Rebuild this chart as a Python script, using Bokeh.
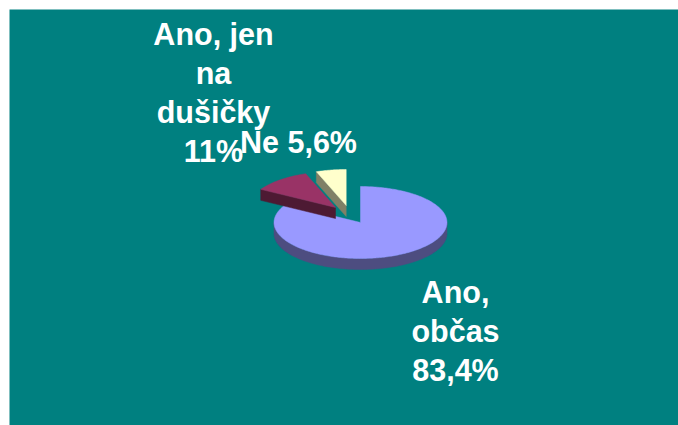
import numpy as np
from bokeh.plotting import figure
from bokeh.models import Range1d
from bokeh.embed import file_html
from bokeh.resources import INLINE
from bokeh.core.properties import value

categories = ["Ano, občas", "Ano, jen na dušičky", "Ne"]
shares = [83.4, 11.0, 5.6]
labels = ["Ano,\nobčas\n83,4%", "Ano, jen\nna\ndušičky\n11%", "Ne 5,6%"]
top_colors = ["#9999FF", "#993366", "#FFFFCC"]
side_colors = ["#4D4D80", "#4D1A33", "#808066"]

# layout of the 3D pie, in page pixels
CX, CY, RX, RY, DEPTH = 360.0, 222.0, 86.5, 36.0, 11.0
explode = [(0, 0), (-25, -15), (-14.3, -17)]
label_pos = [(455, 274), (213, 16), (298, 124)]

p = figure(width=678, height=425, output_backend="svg", toolbar_location=None,
           x_range=Range1d(9, 678), y_range=Range1d(425, 9),
           min_border_left=9, min_border_top=9, min_border_right=0, min_border_bottom=0,
           background_fill_color="#008080", border_fill_color="#FFFFFF")
p.frame_width = 669
p.frame_height = 416
p.axis.visible = False
p.grid.visible = False
p.outline_line_color = None


def arc(a0, a1, dx, dy, drop=0.0):
    t = np.radians(np.linspace(a0, a1, max(int(abs(a1 - a0)), 2) + 1))
    return CX + dx + RX * np.sin(t), CY + dy + drop - RY * np.cos(t)


edges = np.concatenate([[0], np.cumsum(shares)]) * 3.6

# draw order: large slice, then the small yellow one, then the red one
for i in [0, 2, 1]:
    a0, a1 = edges[i], edges[i + 1]
    dx, dy = explode[i]
    if i == 0:
        # front rim of the large slice
        xa, ya = arc(90, 270, dx, dy)
        xb, yb = arc(270, 90, dx, dy, DEPTH)
        p.patch(np.r_[xa, xb], np.r_[ya, yb], fill_color=side_colors[i], line_color=side_colors[i], line_width=0.5)
    else:
        # cut face on the leading edge, visible below the top surface
        xa, ya = arc(a0, a0, dx, dy)
        ax, ay = CX + dx, CY + dy
        fx = [xa[0], ax, ax, xa[0]]
        fy = [ya[0], ay, ay + DEPTH, ya[0] + DEPTH]
        p.patch(fx, fy, fill_color=side_colors[i], line_color=side_colors[i], line_width=0.5)
    x, y = arc(a0, a1, dx, dy)
    p.patch(np.r_[CX + dx, x], np.r_[CY + dy, y], fill_color=top_colors[i], line_color=top_colors[i], line_width=0.5)

for lab, (lx, ly) in zip(labels, label_pos):
    p.text([lx], [ly], text=[lab], text_font=value("Liberation Sans"), text_font_style="bold",
           text_font_size="30.5px", text_color="#FFFFFF", text_align="center", text_baseline="top",
           text_line_height=1.15)

open("out.html", "w").write(file_html(p, INLINE))
